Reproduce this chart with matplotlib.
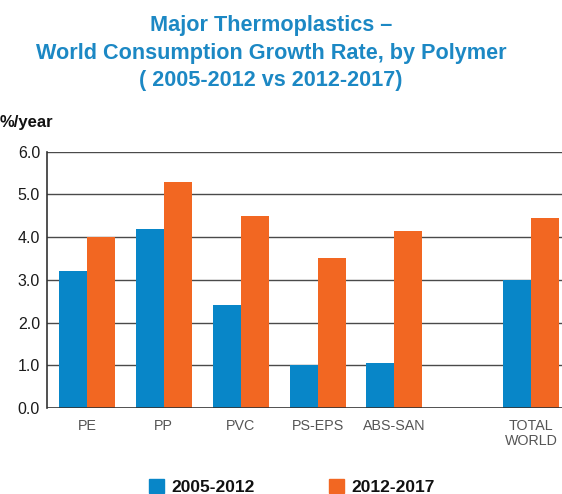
import matplotlib
matplotlib.use("Agg")
import matplotlib.pyplot as plt
import numpy as np

plt.rcParams['font.family'] = ['Liberation Sans', 'DejaVu Sans']

# Data
categories = ["PE", "PP", "PVC", "PS-EPS", "ABS-SAN", "TOTAL\nWORLD"]
positions = [0, 1, 2, 3, 4, 5.78]
growth_2005_2012 = [3.2, 4.2, 2.4, 1.0, 1.05, 3.0]
growth_2012_2017 = [4.0, 5.3, 4.5, 3.5, 4.15, 4.45]
series_labels = ["2005-2012", "2012-2017"]
y_ticks = [0.0, 1.0, 2.0, 3.0, 4.0, 5.0, 6.0]

BLUE = "#0886c8"
ORANGE = "#f26722"
TITLE_BLUE = "#1c88c4"

W, H = 562, 494
fig = plt.figure(figsize=(W / 100, H / 100), dpi=100)

ax_left, ax_right = 47 / W, 1.0
ax_bottom, ax_top = 1 - 408 / H, 1 - 151.7 / H
ax = fig.add_axes([ax_left, ax_bottom, ax_right - ax_left, ax_top - ax_bottom])

x = np.array(positions)
bw = 0.365
ax.bar(x - bw / 2, growth_2005_2012, width=bw, color=BLUE, zorder=3,
       label=series_labels[0])
ax.bar(x + bw / 2, growth_2012_2017, width=bw, color=ORANGE, zorder=3,
       label=series_labels[1])

ax.set_xlim(-0.52, 6.18)
ax.set_ylim(0, 6.0)

# horizontal rules
for yv in y_ticks[1:]:
    ax.axhline(yv, color="#4a4a4a", lw=1.0, zorder=1)
ax.axhline(0, color="#333333", lw=1.2, zorder=4)

for s in ["top", "right"]:
    ax.spines[s].set_visible(False)
ax.spines["bottom"].set_visible(False)
ax.spines["left"].set_color("#333333")
ax.spines["left"].set_linewidth(1.2)

ax.set_yticks(y_ticks)
ax.set_yticklabels([f"{v:.1f}" for v in y_ticks], fontsize=11.5, color="#1a1a1a")
ax.tick_params(axis="y", length=0, pad=5)

ax.set_xticks(x)
ax.set_xticklabels(categories, fontsize=10.3, color="#555555", linespacing=1.1)
ax.tick_params(axis="x", length=0, pad=8)
for lbl in ax.get_xticklabels():
    lbl.set_verticalalignment("top")

# Title
title_lines = ["Major Thermoplastics \u2013",
               "World Consumption Growth Rate, by Polymer",
               "( 2005-2012 vs 2012-2017)"]
for i, line in enumerate(title_lines):
    fig.text(271 / W, 1 - (31.5 + 27 * i) / H, line, ha="center", va="baseline",
             fontsize=15.6, fontweight="bold", color=TITLE_BLUE)

fig.text(53 / W, 1 - 123 / H, "%/year", ha="right", va="center",
         fontsize=12, fontweight="bold", color="#111111")

# Legend
leg_items = [(149, series_labels[0], BLUE), (329, series_labels[1], ORANGE)]
for px, lab, col in leg_items:
    fig.patches.append(plt.Rectangle((px / W, 1 - 494 / H + 1 / H), 15 / W, 14 / H,
                                     transform=fig.transFigure, color=col))
    fig.text((px + 22) / W, 1 - 487 / H, lab, ha="left", va="center",
             fontsize=12.5, fontweight="bold", color="#111111")

fig.savefig("out.png", dpi=100)
